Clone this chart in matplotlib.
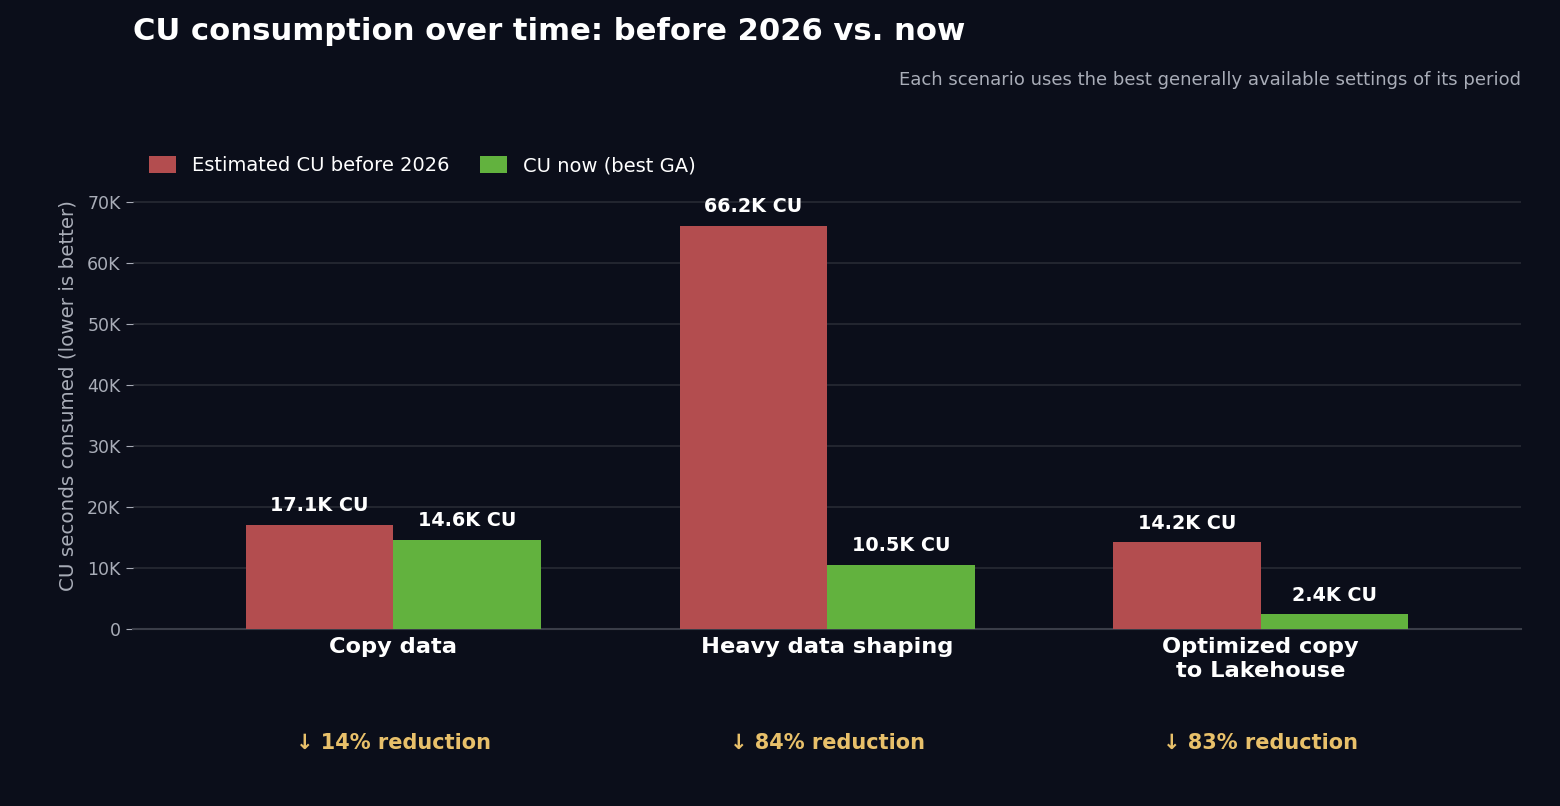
import numpy as np
import matplotlib.pyplot as plt
from matplotlib.ticker import FuncFormatter

# Chart data
categories = ["Copy data", "Heavy data shaping", "Optimized copy\nto Lakehouse"]
before_cu = [17100, 66200, 14200]
now_cu = [14600, 10500, 2400]
before_labels = ["17.1K CU", "66.2K CU", "14.2K CU"]
now_labels = ["14.6K CU", "10.5K CU", "2.4K CU"]
reductions = ["↓ 14% reduction", "↓ 84% reduction", "↓ 83% reduction"]

bg = "#0b0e1a"
red = "#b34d4f"
green = "#62b23e"
gold = "#e8c06a"

fig = plt.figure(figsize=(15.6, 8.06), dpi=100, facecolor=bg)
ax = fig.add_axes([0.0853, 0.2196, 0.8897, 0.5806])
ax.set_facecolor(bg)

x = np.arange(len(categories))
w = 0.34
b1 = ax.bar(x - w / 2, before_cu, w, color=red, label="Estimated CU before 2026", zorder=3)
b2 = ax.bar(x + w / 2, now_cu, w, color=green, label="CU now (best GA)", zorder=3)

# value labels above bars
for bars, labels in [(b1, before_labels), (b2, now_labels)]:
    for rect, lab in zip(bars, labels):
        ax.annotate(lab, (rect.get_x() + rect.get_width() / 2, rect.get_height()),
                    xytext=(0, 7), textcoords="offset points", ha="center", va="bottom",
                    color="white", fontsize=13.8, fontweight="bold")

ax.set_xlim(-0.6, 2.6)
ax.set_ylim(0, max(before_cu) * 1.16)
ax.set_yticks(np.arange(0, 70001, 10000))
ax.yaxis.set_major_formatter(FuncFormatter(lambda v, p: "0" if v == 0 else f"{int(v / 1000)}K"))
ax.set_xticks(x)
ax.set_xticklabels(categories, color="white", fontsize=16.2, fontweight="bold", linespacing=1.25)
ax.tick_params(axis="x", length=0, pad=6)
ax.tick_params(axis="y", colors="#a9adb8", labelsize=12.5, length=5, pad=4)
ax.set_ylabel("CU seconds consumed (lower is better)", color="#a9adb8", fontsize=14.3, labelpad=7)
ax.grid(axis="y", color="#22252f", linewidth=1.5, zorder=0)
for s in ["top", "right", "left"]:
    ax.spines[s].set_visible(False)
ax.spines["bottom"].set_color("#3a3d48")
ax.spines["bottom"].set_linewidth(1.5)

# reduction notes under the categories
for xi, txt in zip(x, reductions):
    ax.text(xi, -0.244, txt, transform=ax.get_xaxis_transform(), ha="center", va="center",
            color=gold, fontsize=15, fontweight="bold")

leg = ax.legend(loc="lower left", bbox_to_anchor=(0.0904, 0.773), bbox_transform=fig.transFigure,
                ncol=2, frameon=False, fontsize=14, labelcolor="white", handlelength=1.4,
                handleheight=0.9, columnspacing=1.6, borderaxespad=0.0)

fig.text(0.0853, 0.961, "CU consumption over time: before 2026 vs. now", color="white",
         fontsize=22.1, fontweight="bold", ha="left", va="center")
fig.text(0.975, 0.901, "Each scenario uses the best generally available settings of its period",
         color="#a9adb8", fontsize=13, ha="right", va="center")

fig.savefig("out.png", dpi=100, facecolor=bg)
